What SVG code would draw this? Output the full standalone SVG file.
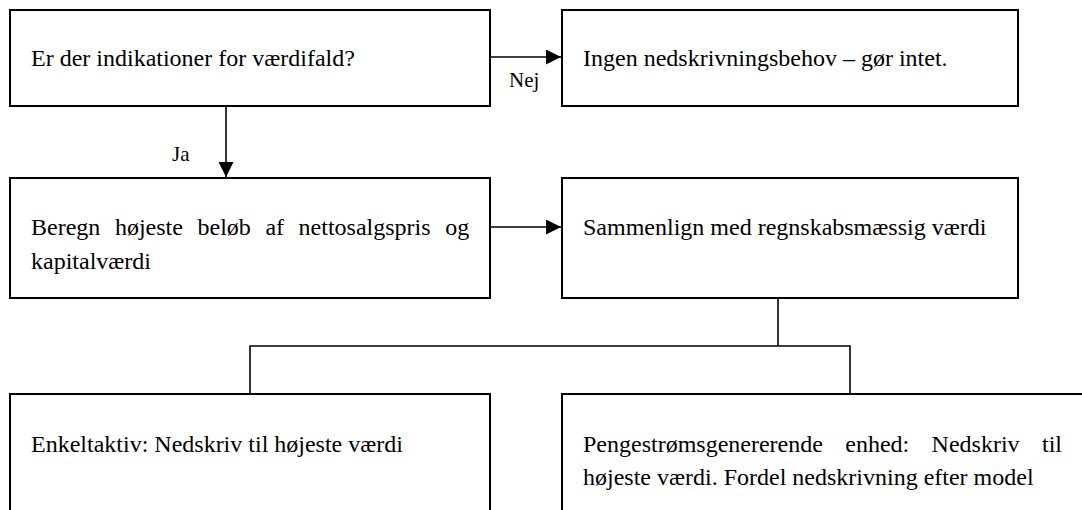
<svg xmlns="http://www.w3.org/2000/svg" width="1082" height="510" viewBox="0 0 1082 510">
<style>
.box{fill:#fff;stroke:#000;stroke-width:2}
.t{font-family:"Liberation Serif","Times New Roman",serif;font-size:24px;fill:#000}
.lbl{font-family:"Liberation Serif","Times New Roman",serif;font-size:21px;fill:#000}
.ln{fill:none;stroke:#000;stroke-width:1.6}
</style>
<defs>
<marker id="ah" markerUnits="userSpaceOnUse" markerWidth="16" markerHeight="16" refX="15" refY="7.5" orient="auto">
<path d="M0,0 L15,7.5 L0,15 Z" fill="#000"/>
</marker>
</defs>
<rect width="1082" height="510" fill="#fff"/>
<g id="connectors">
<line class="ln" x1="490" y1="57" x2="561" y2="57" marker-end="url(#ah)"/>
<line class="ln" x1="226" y1="106" x2="226" y2="177" marker-end="url(#ah)"/>
<line class="ln" x1="490" y1="227" x2="561" y2="227" marker-end="url(#ah)"/>
<polyline class="ln" points="778,298 778,346"/>
<polyline class="ln" points="250,394 250,346 850,346 850,394"/>
<text class="lbl" x="509" y="87">Nej</text>
<text class="lbl" x="172" y="161">Ja</text>
</g>
<g id="n1">
<rect class="box" x="10" y="10" width="480" height="96"/>
<text class="t" x="31" y="66">Er der indikationer for værdifald?</text>
</g>
<g id="n2">
<rect class="box" x="562" y="10" width="456" height="96"/>
<text class="t" x="583" y="66">Ingen nedskrivningsbehov – gør intet.</text>
</g>
<g id="n3">
<rect class="box" x="10" y="178" width="480" height="120"/>
<text class="t" y="235"><tspan x="31">Beregn</tspan><tspan x="114.9">højeste</tspan><tspan x="197.5">beløb</tspan><tspan x="265.4">af</tspan><tspan x="298.6">nettosalgspris</tspan><tspan x="445.2">og</tspan></text>
<text class="t" x="31" y="269">kapitalværdi</text>
</g>
<g id="n4">
<rect class="box" x="562" y="178" width="456" height="120"/>
<text class="t" x="583" y="235">Sammenlign med regnskabsmæssig værdi</text>
</g>
<g id="n5">
<rect class="box" x="10" y="394" width="480" height="140"/>
<text class="t" x="31" y="452">Enkeltaktiv: Nedskriv til højeste værdi</text>
</g>
<g id="n6">
<rect class="box" x="562" y="394" width="540" height="140"/>
<text class="t" y="452"><tspan x="583">Pengestrømsgenererende</tspan><tspan x="845.3">enhed:</tspan><tspan x="931.6">Nedskriv</tspan><tspan x="1042">til</tspan></text>
<text class="t" x="583" y="485">højeste værdi. Fordel nedskrivning efter model</text>
</g>
</svg>
